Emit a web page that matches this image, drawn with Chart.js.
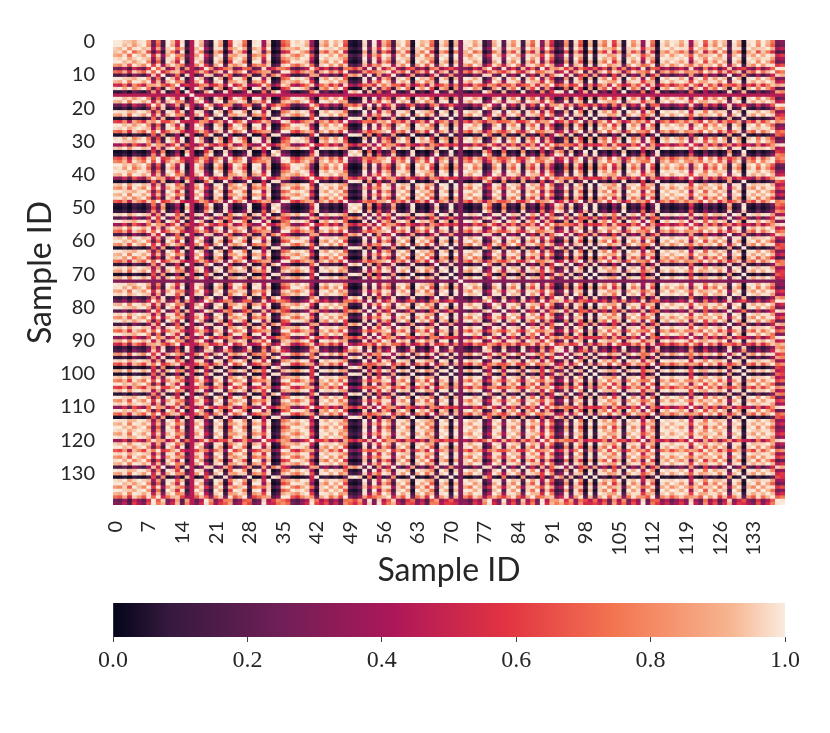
<!DOCTYPE html>
<html>
<head>
<meta charset="utf-8">
<script src="https://cdn.jsdelivr.net/npm/chart.js@4.4.1/dist/chart.umd.min.js"></script>
<style>
  html, body { margin: 0; padding: 0; background: #fff; }
  #wrap { position: relative; width: 830px; height: 733px; }
  #heat { position: absolute; left: 0; top: 0; }
  #bar { position: absolute; left: 0; top: 600px; }
</style>
</head>
<body>
<div id="wrap">
  <canvas id="heat" width="830" height="600"></canvas>
  <canvas id="bar" width="830" height="133"></canvas>
</div>
<script>
// sample IDs 0..139, shown every 7th on x and every 10th on y
const sampleIds = Array.from({ length: 140 }, (_, i) => i);
const xTickStep = 7;
const yTickLabels = [0, 10, 20, 30, 40, 50, 60, 70, 80, 90, 100, 110, 120, 130];
const colorbarTicks = [0, 0.2, 0.4, 0.6, 0.8, 1.0];

// per-sample position (low = the dark outlier rows/cols)
const sampleScore = [
  0.78, 0.80, 0.72, 0.85, 0.68, 0.74, 0.80, 0.66, 0.45, 0.62,
  0.38, 0.78, 0.70, 0.55, 0.82, 0.33, 0.75, 0.80, 0.70, 0.44,
  0.31, 0.76, 0.68, 0.29, 0.58, 0.80, 0.74, 0.62, 0.27, 0.82,
  0.78, 0.50, 0.72, 0.23, 0.31, 0.60, 0.64, 0.80, 0.84, 0.76,
  0.70, 0.49, 0.27, 0.72, 0.66, 0.78, 0.70, 0.82, 0.60, 0.29,
  0.24, 0.32, 0.74, 0.41, 0.78, 0.50, 0.70, 0.62, 0.38, 0.72,
  0.80, 0.66, 0.27, 0.78, 0.70, 0.84, 0.62, 0.32, 0.74, 0.68,
  0.26, 0.70, 0.60, 0.76, 0.82, 0.68, 0.74, 0.33, 0.44, 0.70,
  0.78, 0.41, 0.74, 0.66, 0.80, 0.37, 0.72, 0.62, 0.78, 0.47,
  0.70, 0.55, 0.32, 0.38, 0.66, 0.33, 0.74, 0.60, 0.24, 0.70,
  0.27, 0.72, 0.64, 0.80, 0.58, 0.72, 0.31, 0.78, 0.66, 0.74,
  0.49, 0.80, 0.62, 0.26, 0.76, 0.70, 0.80, 0.74, 0.68, 0.76,
  0.50, 0.72, 0.80, 0.60, 0.74, 0.66, 0.82, 0.70, 0.38, 0.76,
  0.68, 0.25, 0.74, 0.80, 0.66, 0.78, 0.70, 0.62, 0.44, 0.47
];
// samples whose row/column has an even shade against everything
const flatSamples = [16, 72];
const flatLevels = [0.45, 0.30];
const kernelWidth = 0.29;

// seaborn "rocket"
const rocketPos = [0, 0.083, 0.25, 0.417, 0.583, 0.75, 0.917, 1];
const rocketHex = ['#03051a', '#35193e', '#701f57', '#ad1759', '#e13342', '#f37651', '#f6b48f', '#faebdd'];

function hexRgb(h) {
  return [parseInt(h.slice(1, 3), 16), parseInt(h.slice(3, 5), 16), parseInt(h.slice(5, 7), 16)];
}
const rocketRgb = rocketHex.map(hexRgb);

function rocket(v) {
  v = Math.max(0, Math.min(1, v));
  let k = 0;
  while (k < rocketPos.length - 2 && v > rocketPos[k + 1]) k++;
  const t = (v - rocketPos[k]) / (rocketPos[k + 1] - rocketPos[k]);
  const a = rocketRgb[k], b = rocketRgb[k + 1];
  return 'rgb(' + [0, 1, 2].map(c => Math.round(a[c] + (b[c] - a[c]) * t)).join(',') + ')';
}

function similarity(i, j) {
  if (i === j) return 1;
  const fi = flatSamples.indexOf(i), fj = flatSamples.indexOf(j);
  if (fi >= 0 || fj >= 0) {
    return Math.min(fi >= 0 ? flatLevels[fi] : 1, fj >= 0 ? flatLevels[fj] : 1);
  }
  const d = sampleScore[i] - sampleScore[j];
  return Math.exp(-(d * d) / (kernelWidth * kernelWidth));
}

const textColor = '#262626';
const sansFont = 'Lato, "DejaVu Sans", sans-serif';
const serifFont = '"Liberation Serif", "DejaVu Serif", serif';

// one stacked dataset per row, each bar a cell of height 1
const rowDatasets = sampleIds.map(r => ({
  label: 'row ' + r,
  data: sampleIds.map(() => 1),
  backgroundColor: sampleIds.map(c => rocket(similarity(r, c))),
  borderWidth: 0,
  barPercentage: 1,
  categoryPercentage: 1
}));

new Chart(document.getElementById('heat'), {
  type: 'bar',
  data: { labels: sampleIds.map(String), datasets: rowDatasets },
  options: {
    responsive: false,
    animation: false,
    events: [],
    layout: { padding: { top: 40, left: 17, right: 45, bottom: 6 } },
    plugins: { legend: { display: false }, tooltip: { enabled: false } },
    scales: {
      x: {
        stacked: true,
        grid: { display: false },
        border: { display: false },
        ticks: {
          autoSkip: false,
          minRotation: 90,
          maxRotation: 90,
          padding: 8,
          color: textColor,
          font: { family: sansFont, size: 20 },
          callback: function (v, i) { return i % xTickStep === 0 ? this.getLabelForValue(v) : ''; }
        },
        title: { display: true, text: 'Sample ID', color: textColor, font: { family: sansFont, size: 32 } },
        afterFit: s => { s.height = 89; }
      },
      y: {
        stacked: true,
        reverse: true,
        min: 0,
        max: 140,
        grid: { display: false },
        border: { display: false },
        afterBuildTicks: s => { s.ticks = yTickLabels.map(v => ({ value: v + 0.5 })); },
        ticks: {
          padding: 10,
          color: textColor,
          font: { family: sansFont, size: 20 },
          callback: v => String(Math.round(v - 0.5))
        },
        title: { display: true, text: 'Sample ID', color: textColor, font: { family: sansFont, size: 32 } },
        afterFit: s => { s.width = 96; }
      }
    }
  }
});

// colorbar
new Chart(document.getElementById('bar'), {
  type: 'bar',
  data: {
    labels: ['cbar'],
    datasets: [{
      data: [[0, 1]],
      borderWidth: 0,
      barPercentage: 1,
      categoryPercentage: 1,
      backgroundColor: ctx => {
        const area = ctx.chart.chartArea;
        if (!area) return '#888';
        const g = ctx.chart.ctx.createLinearGradient(area.left, 0, area.right, 0);
        rocketPos.forEach((p, k) => g.addColorStop(p, rocketHex[k]));
        return g;
      }
    }]
  },
  options: {
    indexAxis: 'y',
    responsive: false,
    animation: false,
    events: [],
    layout: { padding: { top: 3, left: 113, right: 45, bottom: 0 } },
    plugins: { legend: { display: false }, tooltip: { enabled: false } },
    scales: {
      x: {
        type: 'linear',
        min: 0,
        max: 1,
        grid: { display: true, drawOnChartArea: false, drawTicks: true, tickLength: 5, color: '#444' },
        border: { display: false },
        afterBuildTicks: s => { s.ticks = colorbarTicks.map(v => ({ value: v })); },
        ticks: {
          padding: 4,
          color: textColor,
          font: { family: serifFont, size: 24 },
          callback: v => v.toFixed(1)
        },
        afterFit: s => { s.height = 96; }
      },
      y: { display: false }
    }
  }
});
</script>
</body>
</html>
